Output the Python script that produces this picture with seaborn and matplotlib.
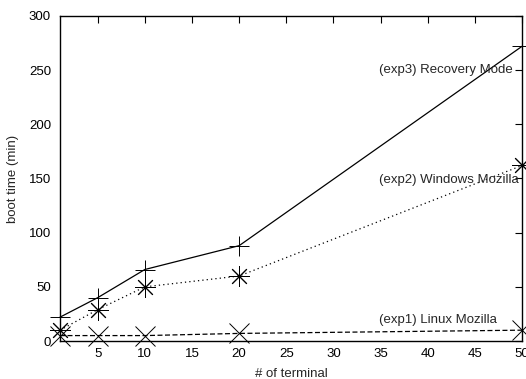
import matplotlib
matplotlib.use("Agg")
import matplotlib.pyplot as plt
import seaborn as sns
import pandas as pd

terminals = [1, 5, 10, 20, 50]
exp1_linux = [5, 5, 5, 7, 10]
exp2_windows = [10, 29, 50, 60, 162]
exp3_recovery = [22, 40, 66, 88, 272]

series_names = ["(exp1) Linux Mozilla", "(exp2) Windows Mozilla", "(exp3) Recovery Mode"]
x_ticks = [5, 10, 15, 20, 25, 30, 35, 40, 45, 50]
y_ticks = [0, 50, 100, 150, 200, 250, 300]

df = pd.concat([
    pd.DataFrame({"x": terminals, "y": exp1_linux, "s": series_names[0]}),
    pd.DataFrame({"x": terminals, "y": exp2_windows, "s": series_names[1]}),
    pd.DataFrame({"x": terminals, "y": exp3_recovery, "s": series_names[2]}),
])

sns.set_style("white")
plt.rcParams['font.family'] = ['Liberation Sans', 'DejaVu Sans']

fig = plt.figure(figsize=(5.26, 3.79), dpi=100)
ax = fig.add_axes([60/526, 1 - 341/379, 462/526, 325/379])

sns.lineplot(data=df, x="x", y="y", hue="s", style="s",
             palette={n: "black" for n in series_names},
             markers={series_names[0]: "x", series_names[1]: (8, 2, 0), series_names[2]: "+"},
             dashes={series_names[0]: (4, 2), series_names[1]: (1, 2.5), series_names[2]: ""},
             markersize=15, markeredgewidth=0.7, markeredgecolor="black", linewidth=0.9,
             legend=False, ax=ax, clip_on=False)

ax.set_xlim(1, 50)
ax.set_ylim(0, 300)
ax.set_xticks(x_ticks)
ax.set_yticks(y_ticks)
ax.tick_params(direction="in", length=5, width=0.8, top=True, right=True,
               labelsize=9.5, colors="black")
ax.tick_params(axis="y", pad=6.5)
ax.tick_params(axis="x", pad=5)
for sp in ax.spines.values():
    sp.set_visible(True)
    sp.set_color("black")
    sp.set_linewidth(1.0)

ax.set_xlabel("# of terminal", fontsize=9.5, labelpad=6)
ax.set_ylabel("boot time (min)", fontsize=9.5, labelpad=7)

ax.text(49.0, 250, series_names[2], ha="right", va="center", fontsize=9.5)
ax.text(49.7, 149, series_names[1], ha="right", va="center", fontsize=9.5)
ax.text(47.3, 19, series_names[0], ha="right", va="center", fontsize=9.5)

fig.savefig("out.png", dpi=100)
